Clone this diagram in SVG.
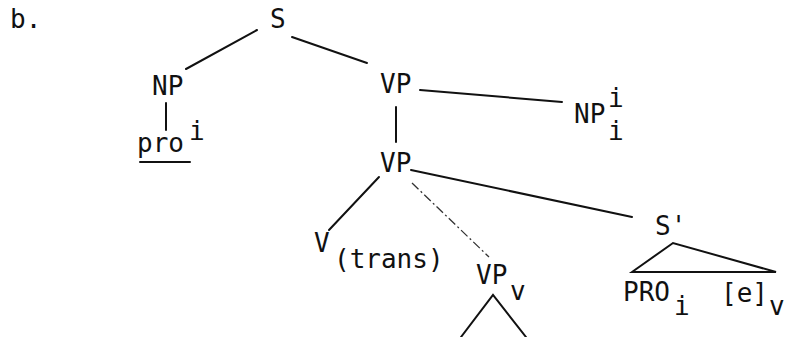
<svg xmlns="http://www.w3.org/2000/svg" width="786" height="337" viewBox="0 0 786 337">
<style>
text{font-family:"DejaVu Sans Mono","Liberation Mono",monospace;font-size:26px;fill:#111}
.e{stroke:#111;stroke-width:2;fill:none;stroke-linecap:round}
.d{stroke:#333;stroke-width:1.3;fill:none;stroke-dasharray:9 3 2 3}
</style>
<rect width="786" height="337" fill="#fff"/>
<g id="label"><text x="10" y="28">b.</text></g>
<g id="S"><text x="270" y="28">S</text></g>
<g id="NP"><text x="152" y="95">NP</text></g>
<g id="pro"><text x="137" y="152">pro</text><text x="189" y="140">i</text><line class="e" x1="140" y1="162" x2="190" y2="162"/></g>
<g id="VP1"><text x="380" y="93">VP</text></g>
<g id="NPi"><text x="574" y="123">NP</text><text x="608" y="107">i</text><text x="608" y="140">i</text></g>
<g id="VP2"><text x="380" y="172">VP</text></g>
<g id="V"><text x="314" y="252">V</text><text x="334" y="268">(trans)</text></g>
<g id="VPv"><text x="476" y="284">VP</text><text x="510" y="300">v</text></g>
<g id="Sbar"><text x="655" y="235">S'</text></g>
<g id="PRO"><text x="623" y="301">PRO</text><text x="674" y="315">i</text></g>
<g id="e"><text x="721" y="302">[e]</text><text x="769" y="315">v</text></g>
<g id="connectors">
<line class="e" x1="257" y1="30" x2="186" y2="69"/>
<line class="e" x1="292" y1="37" x2="367" y2="63"/>
<line class="e" x1="166" y1="103" x2="166" y2="130"/>
<line class="e" x1="420" y1="90" x2="562" y2="102"/>
<line class="e" x1="396" y1="107" x2="396" y2="142"/>
<line class="e" x1="379" y1="177" x2="329" y2="230"/>
<line class="d" x1="412" y1="183" x2="489" y2="257"/>
<line class="e" x1="411" y1="170" x2="632" y2="217"/>
<polyline class="e" points="461,337 493,295 526,337"/>
<polygon class="e" points="632,272 673,243 776,272"/>
</g>
</svg>
